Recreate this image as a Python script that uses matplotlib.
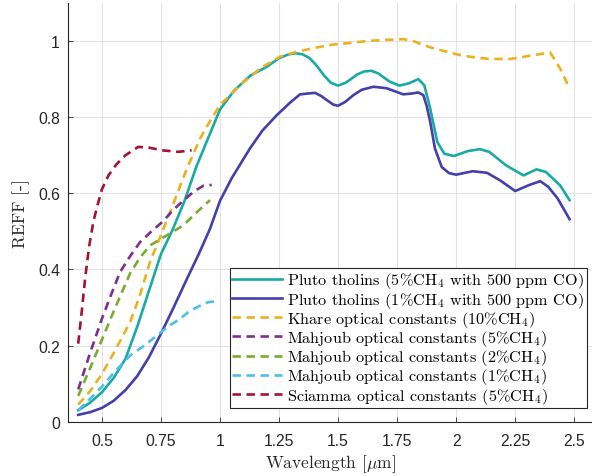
import matplotlib
matplotlib.use("Agg")
import matplotlib.pyplot as plt
from matplotlib.ticker import FuncFormatter

plt.rcParams['mathtext.fontset'] = 'cm'

# ---------------- data ----------------
teal_x = [0.40, 0.45, 0.50, 0.55, 0.60, 0.65, 0.70, 0.75, 0.80, 0.85, 0.90, 0.95, 1.00, 1.06, 1.13, 1.20,
          1.25, 1.29, 1.32, 1.35, 1.38, 1.41, 1.44, 1.47, 1.50, 1.53, 1.55, 1.58, 1.61, 1.64, 1.67, 1.69,
          1.72, 1.76, 1.80, 1.84, 1.865, 1.89, 1.92, 1.95, 1.99, 2.05, 2.10, 2.14, 2.21, 2.285, 2.34, 2.38,
          2.44, 2.48]
teal_y = [0.030, 0.050, 0.077, 0.115, 0.165, 0.250, 0.345, 0.440, 0.505, 0.580, 0.670, 0.745, 0.820, 0.870,
          0.910, 0.933, 0.955, 0.965, 0.968, 0.965, 0.955, 0.935, 0.910, 0.890, 0.883, 0.890, 0.898, 0.912,
          0.920, 0.922, 0.915, 0.906, 0.893, 0.883, 0.889, 0.900, 0.884, 0.823, 0.735, 0.704, 0.698, 0.711,
          0.716, 0.709, 0.674, 0.647, 0.663, 0.656, 0.621, 0.582]

navy_x = [0.40, 0.45, 0.50, 0.55, 0.60, 0.65, 0.70, 0.746, 0.80, 0.86, 0.91, 0.958, 1.00, 1.05, 1.127, 1.18,
          1.24, 1.30, 1.339, 1.37, 1.403, 1.43, 1.452, 1.48, 1.50, 1.53, 1.565, 1.60, 1.65, 1.706, 1.776,
          1.81, 1.84, 1.861, 1.875, 1.89, 1.91, 1.939, 1.97, 2.00, 2.07, 2.13, 2.186, 2.25, 2.306, 2.356,
          2.39, 2.43, 2.48]
navy_y = [0.018, 0.025, 0.036, 0.055, 0.083, 0.120, 0.170, 0.226, 0.295, 0.375, 0.440, 0.507, 0.580, 0.640,
          0.718, 0.765, 0.805, 0.840, 0.860, 0.862, 0.864, 0.855, 0.845, 0.833, 0.830, 0.840, 0.858, 0.872,
          0.880, 0.876, 0.860, 0.862, 0.865, 0.858, 0.830, 0.788, 0.718, 0.669, 0.653, 0.649, 0.658, 0.654,
          0.634, 0.606, 0.621, 0.632, 0.617, 0.586, 0.532]

khare_x = [0.40, 0.45, 0.50, 0.55, 0.62, 0.66, 0.704, 0.75, 0.789, 0.86, 0.916, 0.944, 1.00, 1.085, 1.17,
           1.254, 1.325, 1.40, 1.48, 1.55, 1.62, 1.70, 1.776, 1.819, 1.86, 1.904, 1.96, 2.017, 2.08, 2.143,
           2.228, 2.28, 2.327, 2.398, 2.44, 2.48]
khare_y = [0.045, 0.080, 0.125, 0.180, 0.262, 0.330, 0.420, 0.490, 0.551, 0.665, 0.744, 0.775, 0.832, 0.884,
           0.928, 0.959, 0.972, 0.982, 0.991, 0.995, 1.000, 1.003, 1.005, 1.000, 0.990, 0.981, 0.972, 0.963,
           0.957, 0.953, 0.953, 0.958, 0.963, 0.970, 0.928, 0.876]

mah5_x = [0.40, 0.45, 0.50, 0.54, 0.577, 0.62, 0.662, 0.71, 0.76, 0.80, 0.84, 0.89, 0.93, 0.965]
mah5_y = [0.085, 0.180, 0.270, 0.335, 0.393, 0.435, 0.472, 0.500, 0.527, 0.555, 0.578, 0.605, 0.620, 0.622]

mah2_x = [0.40, 0.45, 0.50, 0.55, 0.62, 0.66, 0.704, 0.75, 0.789, 0.83, 0.86, 0.91, 0.958]
mah2_y = [0.068, 0.140, 0.215, 0.290, 0.390, 0.430, 0.463, 0.480, 0.495, 0.510, 0.525, 0.555, 0.582]

mah1_x = [0.40, 0.45, 0.50, 0.56, 0.62, 0.68, 0.732, 0.78, 0.831, 0.87, 0.916, 0.95, 0.979]
mah1_y = [0.030, 0.060, 0.092, 0.135, 0.174, 0.200, 0.226, 0.250, 0.270, 0.290, 0.305, 0.314, 0.316]

sci_x = [0.40, 0.415, 0.429, 0.446, 0.464, 0.48, 0.50, 0.528, 0.56, 0.60, 0.654, 0.70, 0.754, 0.824, 0.88]
sci_y = [0.205, 0.290, 0.375, 0.460, 0.525, 0.565, 0.610, 0.647, 0.675, 0.700, 0.722, 0.720, 0.713, 0.709, 0.713]

labels = [r'Pluto tholins (5%CH$_4$ with 500 ppm CO)',
          r'Pluto tholins (1%CH$_4$ with 500 ppm CO)',
          r'Khare optical constants (10%CH$_4$)',
          r'Mahjoub optical constants (5%CH$_4$)',
          r'Mahjoub optical constants (2%CH$_4$)',
          r'Mahjoub optical constants (1%CH$_4$)',
          r'Sciamma optical constants (5%CH$_4$)']

x_ticks = [0.5, 0.75, 1, 1.25, 1.5, 1.75, 2, 2.25, 2.5]
y_ticks = [0, 0.2, 0.4, 0.6, 0.8, 1]

# ---------------- figure ----------------
W, H = 592, 477
fig = plt.figure(figsize=(W / 100, H / 100), dpi=100)
ax = fig.add_axes([68.3 / W, 1 - 422.7 / H, (592 - 68.3) / W, (422.7 - 4) / H])

lw = 1.9
dash = (0, (3.2, 2.1))
ax.plot(teal_x, teal_y, color='#19AAA6', lw=lw, label=labels[0])
ax.plot(navy_x, navy_y, color='#4440AA', lw=lw, label=labels[1])
ax.plot(khare_x, khare_y, color='#EDB120', lw=lw, ls=dash, label=labels[2])
ax.plot(mah5_x, mah5_y, color='#7E2F8E', lw=lw, ls=dash, label=labels[3])
ax.plot(mah2_x, mah2_y, color='#77AC30', lw=lw, ls=dash, label=labels[4])
ax.plot(mah1_x, mah1_y, color='#4DBEEE', lw=lw, ls=dash, label=labels[5])
ax.plot(sci_x, sci_y, color='#A2142F', lw=lw, ls=dash, label=labels[6])

ax.set_xlim(0.358, 2.575)
ax.set_ylim(0, 1.1)
ax.set_xticks(x_ticks)
ax.set_yticks(y_ticks)
fmt = FuncFormatter(lambda v, p: '%g' % v)
ax.xaxis.set_major_formatter(fmt)
ax.yaxis.set_major_formatter(fmt)

for s in ['top', 'right']:
    ax.spines[s].set_visible(False)
for s in ['left', 'bottom']:
    ax.spines[s].set_color('#262626')
    ax.spines[s].set_linewidth(0.8)

ax.tick_params(direction='in', length=3.5, width=0.6, colors='#262626',
               labelsize=11.3)
ax.tick_params(axis='x', pad=8)
ax.tick_params(axis='y', pad=6)
for t in ax.get_xticklabels() + ax.get_yticklabels():
    t.set_fontfamily('Liberation Sans')

ax.grid(True, color='#E3E3E3', lw=0.8)
ax.set_axisbelow(True)

ax.set_xlabel(r'Wavelength [$\mu$m]', fontfamily='cmr10', fontsize=12.5, color='#262626', labelpad=3)
ax.set_ylabel('REFF [-]', fontfamily='cmr10', fontsize=12.5, color='#262626', labelpad=6)

leg = ax.legend(loc='lower right', bbox_to_anchor=(0.9899, 0.0327), borderaxespad=0,
                prop={'family': 'cmr10', 'size': 11.7}, handlelength=3.1, handletextpad=0.3,
                labelspacing=-0.05, borderpad=0.15, fancybox=False, framealpha=1,
                edgecolor='#262626')
leg.get_frame().set_linewidth(0.8)

fig.savefig('out.png', dpi=100)
